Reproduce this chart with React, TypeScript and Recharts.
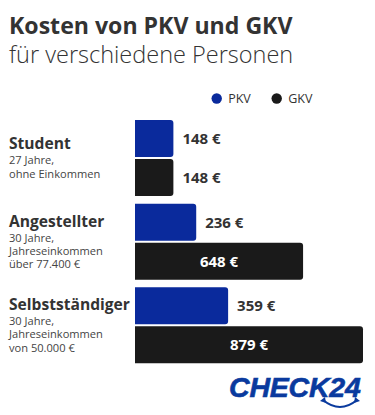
import React from 'react';
import { BarChart, Bar, XAxis, YAxis, LabelList } from 'recharts';

const categories = ['Student', 'Angestellter', 'Selbstständiger'];
const categoryDetails = [
  ['27 Jahre,', 'ohne Einkommen'],
  ['30 Jahre,', 'Jahreseinkommen', 'über 77.400 €'],
  ['30 Jahre,', 'Jahreseinkommen', 'von 50.000 €'],
];
const pkvValues = [148, 236, 359];
const gkvValues = [148, 648, 879];
const seriesNames = ['PKV', 'GKV'];
const seriesColors = ['#0a2a9c', '#1a1a1a'];

const data = categories.map((name, i) => ({
  name,
  PKV: pkvValues[i],
  GKV: gkvValues[i],
}));

const FONT = '"Open Sans", "Noto Sans", sans-serif';

const CategoryTick = (props: any) => {
  const { y, payload } = props;
  const idx = categories.indexOf(payload.value);
  const details = categoryDetails[idx] || [];
  const capH = 11.5;
  const titleGap = 15;
  const lineGap = 13.2;
  const h = capH + titleGap + lineGap * (details.length - 1);
  const base = y - h / 2 + capH;
  return (
    <g>
      <text x={9} y={base} fontFamily={FONT} fontWeight={700} fontSize={15.6} fill="#333">
        {payload.value}
      </text>
      {details.map((d: string, k: number) => (
        <text key={k} x={9} y={base + titleGap + k * lineGap} fontFamily={FONT} fontSize={11.1} fill="#444">
          {d}
        </text>
      ))}
    </g>
  );
};

const makeLabel = (allowInside: boolean) => (props: any) => {
  const { x, y, width, height, value } = props;
  const inside = allowInside && width > 100;
  return (
    <text
      x={inside ? x + width / 2 : x + width + 9}
      y={y + height / 2}
      dy="0.36em"
      textAnchor={inside ? 'middle' : 'start'}
      fontFamily={FONT}
      fontWeight={700}
      fontSize={15}
      fill={inside ? '#fff' : '#333'}
    >
      {`${value} €`}
    </text>
  );
};

export default function App() {
  return (
    <div style={{ position: 'absolute', left: 0, top: 0, width: 375, height: 415, background: '#fff' }}>
      <BarChart
        width={375}
        height={415}
        data={data}
        layout="vertical"
        margin={{ top: 116, right: 12, bottom: 48, left: 9 }}
        barGap={2}
        barSize={37}
      >
        <XAxis type="number" domain={[0, 879]} hide />
        <YAxis
          type="category"
          dataKey="name"
          width={126}
          axisLine={false}
          tickLine={false}
          tick={<CategoryTick />}
        />
        <Bar dataKey="PKV" fill={seriesColors[0]} radius={[0, 3, 3, 0]} isAnimationActive={false}>
          <LabelList dataKey="PKV" content={makeLabel(false)} />
        </Bar>
        <Bar dataKey="GKV" fill={seriesColors[1]} radius={[0, 3, 3, 0]} isAnimationActive={false}>
          <LabelList dataKey="GKV" content={makeLabel(true)} />
        </Bar>
      </BarChart>
      <svg width={375} height={415} style={{ position: 'absolute', left: 0, top: 0, pointerEvents: 'none' }}>
        <text x={9} y={33.5} fontFamily={FONT} fontWeight={700} fontSize={23.1} fill="#333">
          Kosten von PKV und GKV
        </text>
        <text x={9} y={62.5} fontFamily={FONT} fontWeight={300} fontSize={23.5} fill="#333">
          für verschiedene Personen
        </text>
        {seriesNames.map((n, i) => (
          <g key={n} transform={`translate(${211.7 + i * 60},0)`}>
            <circle cx={5} cy={98.5} r={5.2} fill={seriesColors[i]} />
            <text x={16.5} y={103} fontFamily={FONT} fontSize={12.5} fill="#333">
              {n}
            </text>
          </g>
        ))}
        <text
          x={229}
          y={397}
          fontFamily='"Liberation Sans", Arial, sans-serif'
          fontWeight={700}
          fontStyle="italic"
          fontSize={28.5}
          letterSpacing={-0.2}
          stroke="#0a3a9e"
          strokeWidth={0.6}
          fill="#0a3a9e"
        >
          CHECK24
        </text>
        <path d="M323 400 Q340 414 357 400" stroke="#0a3a9e" strokeWidth={2} fill="none" />
        <path d="M320 401 L325 397 L326 403 Z" fill="#0a3a9e" />
        <path d="M360 401 L355 397 L354 403 Z" fill="#0a3a9e" />
      </svg>
    </div>
  );
}
